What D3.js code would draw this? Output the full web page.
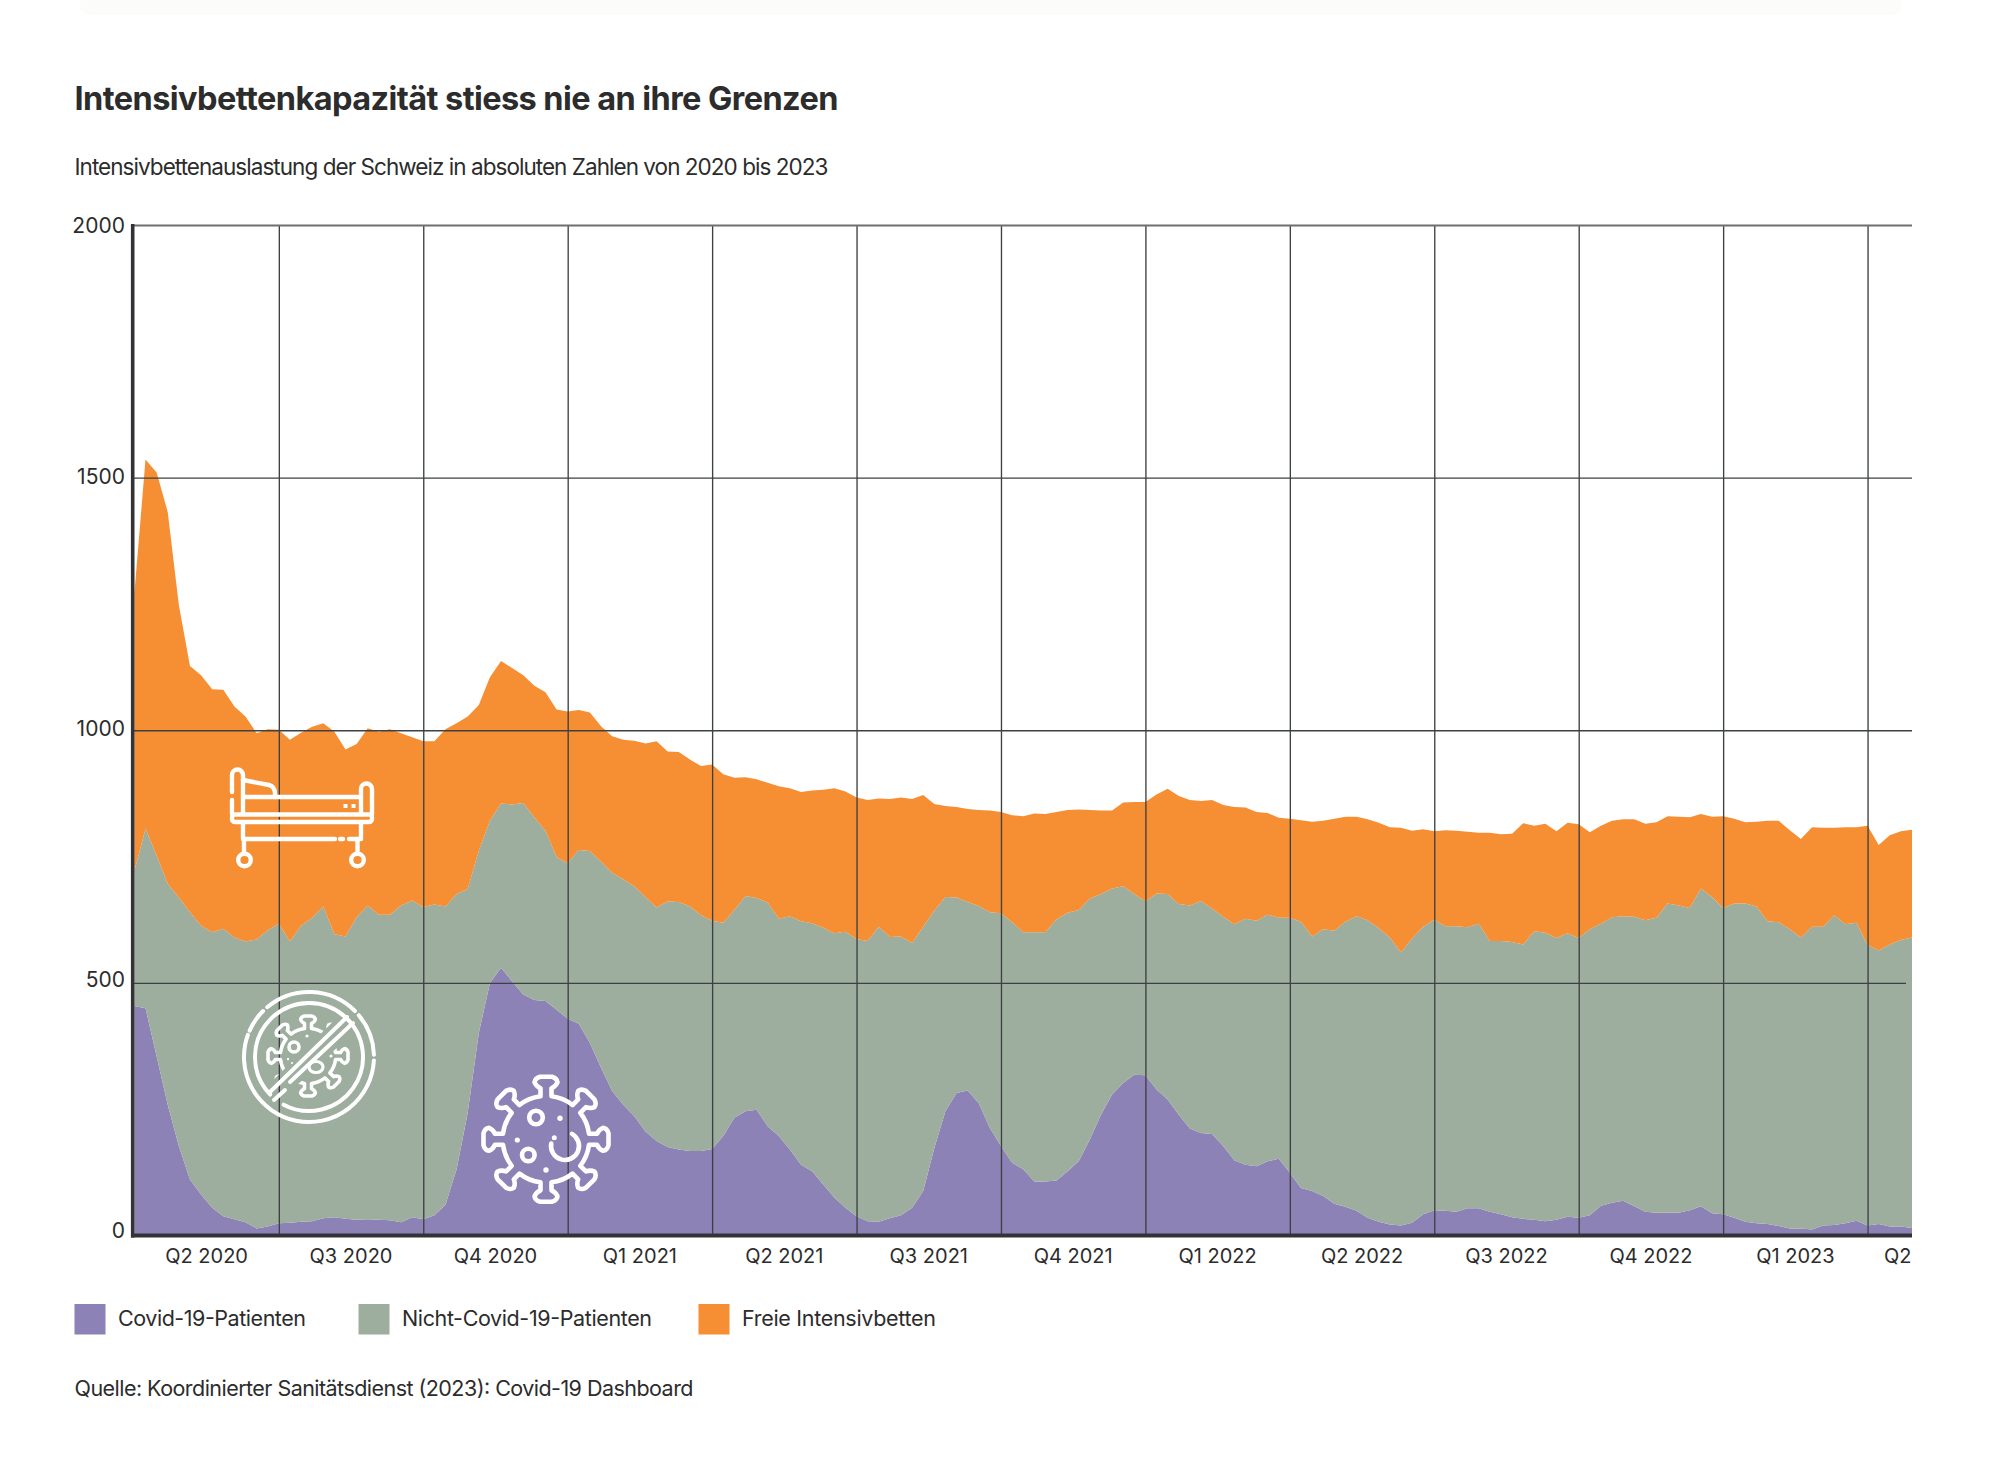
<!DOCTYPE html>
<html lang="de">
<head>
<meta charset="utf-8">
<title>Intensivbettenkapazität</title>
<script src="https://cdn.jsdelivr.net/npm/d3@7/dist/d3.min.js"></script>
<style>
html,body{margin:0;padding:0;background:#fff}
svg{display:block}
text{font-family:Inter,"Noto Sans",sans-serif;fill:#2c2c2c}
</style>
</head>
<body>
<svg id="chart" width="2000" height="1462"></svg>
<script>
const titleText = "Intensivbettenkapazität stiess nie an ihre Grenzen";
const subtitleText = "Intensivbettenauslastung der Schweiz in absoluten Zahlen von 2020 bis 2023";
const sourceText = "Quelle: Koordinierter Sanitätsdienst (2023): Covid-19 Dashboard";
const seriesNames = ["Covid-19-Patienten","Nicht-Covid-19-Patienten","Freie Intensivbetten"];
const seriesColors = ["#8d82b6","#9dad9e","#f68e33"];
const yTicks = [0,500,1000,1500,2000];
const quarterLabels = ["Q2 2020","Q3 2020","Q4 2020","Q1 2021","Q2 2021","Q3 2021","Q4 2021","Q1 2022","Q2 2022","Q3 2022","Q4 2022","Q1 2023","Q2 2023"];
const quarterTicks = [13,26,39,52,65,78,91,104,117,130,143,156];

const covid = [454,450,355,259,177,111,81,55,38,32,26,14,18,24,25,27,28,34,36,33,31,32,31,30,26,36,32,40,61,131,243,401,500,530,503,477,466,464,447,429,419,381,332,286,259,236,206,187,175,170,167,167,171,197,233,246,249,216,197,170,140,127,101,75,55,38,28,27,34,40,55,88,173,246,282,287,262,213,177,144,131,107,107,109,127,147,190,239,279,302,318,317,289,269,239,212,203,201,177,149,140,137,147,152,124,94,88,78,63,57,49,35,27,22,20,25,42,50,49,47,54,54,47,42,36,33,31,28,31,37,35,40,59,65,69,58,47,45,45,45,50,58,44,42,35,27,24,23,19,14,14,12,20,21,24,29,20,23,18,18,15];
const nonCovid = [268,355,397,437,492,529,532,545,569,558,556,572,586,593,557,586,601,617,560,559,599,621,604,605,627,627,618,615,590,545,443,361,321,325,350,379,362,337,302,308,344,380,408,432,446,455,464,462,486,490,484,467,452,422,411,426,419,443,430,462,482,491,508,523,546,549,555,584,557,552,524,523,470,424,387,373,390,427,461,476,469,493,493,517,512,497,477,437,408,389,358,344,388,407,417,441,459,446,454,467,487,486,488,477,505,527,504,528,540,564,583,589,581,568,540,563,569,575,563,565,556,563,536,541,545,543,571,571,558,561,554,566,558,565,563,573,577,584,612,608,598,629,626,606,622,630,627,599,601,592,576,599,591,613,592,590,555,541,558,567,575];
const freeBeds = [549,731,758,736,579,487,496,481,473,457,445,408,398,384,399,382,378,363,401,370,343,351,362,367,341,323,328,323,351,338,341,288,284,282,270,253,260,274,292,300,277,274,268,270,276,288,304,329,297,297,291,295,309,294,262,235,235,237,262,253,256,263,273,287,278,280,279,254,273,275,285,261,211,180,179,184,190,201,200,212,230,235,234,212,203,199,175,165,154,166,182,197,196,208,214,209,198,215,221,232,220,215,201,198,196,201,227,215,222,208,197,200,209,218,247,213,193,175,190,189,189,180,214,211,214,240,209,216,211,219,225,192,194,191,192,193,191,189,173,176,180,147,159,182,168,161,168,199,201,196,195,197,196,173,192,189,236,209,216,215,213];

const rows = covid.map((c,i)=>({i, covid:c, nonCovid:nonCovid[i], free:freeBeds[i]}));
const stacked = d3.stack().keys(["covid","nonCovid","free"])(rows);

const svg = d3.select("#chart");
const plotLeft = 134.4, plotRight = 1912, plotTop = 225, plotBottom = 1235.5;
const xScale = d3.scaleLinear().domain([0,covid.length-1]).range([plotLeft,plotRight]);
const yScale = d3.scaleLinear().domain([0,2000]).range([plotBottom,plotTop]);

function fitText(sel, width){
  sel.attr("textLength",width).attr("lengthAdjust","spacing");
  return sel;
}

/* faint band at the very top of the page */
svg.append("rect").attr("x",80).attr("y",-6).attr("width",1822).attr("height",21).attr("rx",10).attr("fill","#fcfcfb");

fitText(svg.append("text").attr("x",74.5).attr("y",110).attr("font-size",32.5).attr("font-weight",700).text(titleText),764);
fitText(svg.append("text").attr("x",74.5).attr("y",174.5).attr("font-size",22.5).attr("font-weight",400).text(subtitleText),754);

/* stacked areas */
const areaGen = d3.area().x(d=>xScale(d.data.i)).y0(d=>yScale(d[0])).y1(d=>yScale(d[1])).curve(d3.curveLinear);
svg.append("g").selectAll("path").data(stacked).join("path")
  .attr("d",areaGen).attr("fill",(d,i)=>seriesColors[i]);

/* grid via axes */
const gridColor = "#3d4141";
const gx = svg.append("g").attr("transform",`translate(0,${plotBottom})`)
  .call(d3.axisBottom(xScale).tickValues(quarterTicks).tickSize(-(plotBottom-plotTop)).tickFormat(""));
gx.select(".domain").remove();
gx.selectAll("line").attr("stroke",gridColor).attr("stroke-width",1.35);

const gy = svg.append("g").attr("transform",`translate(${plotLeft},0)`)
  .call(d3.axisLeft(yScale).tickValues(yTicks).tickFormat(d3.format("d")).tickSize(0).tickPadding(9));
gy.select(".domain").remove();
gy.selectAll(".tick").each(function(v){
  const t = d3.select(this);
  t.select("line").remove();
  if(v===0) return;
  t.append("line").attr("x1",-2).attr("x2",(v===500?1906:plotRight)-plotLeft)
    .attr("stroke",v===2000?"#6f6f6f":gridColor)
    .attr("stroke-width",v===2000?2:1.3);
});
gy.selectAll("text").attr("font-size",21).attr("text-anchor","end").attr("x",-9.5)
  .attr("dy",v=>(0.35*21-(2000-v)/2000*5)+"px");

/* thick axes */
svg.append("line").attr("x1",132.7).attr("x2",132.7).attr("y1",plotTop-1).attr("y2",plotBottom+2)
  .attr("stroke","#333337").attr("stroke-width",3.6);
svg.append("line").attr("x1",131).attr("x2",plotRight).attr("y1",plotBottom).attr("y2",plotBottom)
  .attr("stroke","#333337").attr("stroke-width",3.8);

/* quarter labels */
const defs = svg.append("defs");
defs.append("clipPath").attr("id","labelClip").append("rect").attr("x",0).attr("y",1230).attr("width",plotRight).attr("height",60);
const labelIdx = quarterLabels.map((d,i)=> i<12 ? (i===0 ? 6.5 : quarterTicks[i-1]+6.5) : 161.2);
svg.append("g").attr("clip-path","url(#labelClip)").selectAll("text").data(quarterLabels).join("text")
  .attr("x",(d,i)=>xScale(labelIdx[i])).attr("y",1263).attr("text-anchor","middle")
  .attr("font-size",20).text(d=>d);

/* legend */
const legendX = [74.5,358.5,698.5];
const legendTextX = [118,402,742];
const legendW = [188,250,194];
const lg = svg.append("g");
seriesNames.forEach((n,i)=>{
  lg.append("rect").attr("x",legendX[i]).attr("y",1304).attr("width",31).attr("height",30.5).attr("fill",seriesColors[i]);
  fitText(lg.append("text").attr("x",legendTextX[i]).attr("y",1325.5).attr("font-size",21.5).text(n),legendW[i]);
});
fitText(svg.append("text").attr("x",74.5).attr("y",1396).attr("font-size",21.5).text(sourceText),619);

/* ---------- white pictograms ---------- */
const ic = svg.append("g").attr("fill","none").attr("stroke","#fff").attr("stroke-linecap","round").attr("stroke-linejoin","round");

/* bed */
const bed = ic.append("g").attr("stroke-width",4.4);
[
 "M232,792 V775 A5.5,5.5 0 0 1 243,775 V814",
 "M232,800 V814",
 "M243,780 L269,785 Q275,786.500 275,794 V797",
 "M243,797 H361",
 "M361,814 V789 A5.500,5.500 0 0 1 372,789 V814",
 "M243,823 V839 H335",
 "M340,839 H343",
 "M349,839 H361 V823",
 "M244,839 V853",
 "M357.500,839 V853"
].forEach(d=>bed.append("path").attr("d",d));
bed.append("rect").attr("x",232).attr("y",814.5).attr("width",140).attr("height",7.5).attr("rx",3);
bed.append("circle").attr("cx",244.5).attr("cy",860).attr("r",6.3);
bed.append("circle").attr("cx",357.5).attr("cy",860).attr("r",6.3);
[345.5,353.5].forEach(cx=>ic.append("rect").attr("x",cx-2).attr("y",804).attr("width",4).attr("height",4).attr("fill","#fff").attr("stroke","none"));

/* helpers */
function polar(cx,cy,r,deg){const a=deg*Math.PI/180;return [cx+r*Math.cos(a),cy+r*Math.sin(a)];}
function arcPath(cx,cy,r,a0,a1){
  const p0=polar(cx,cy,r,a0),p1=polar(cx,cy,r,a1);
  const large=Math.abs(a1-a0)>180?1:0;
  return `M${p0[0]},${p0[1]} A${r},${r} 0 ${large} 1 ${p1[0]},${p1[1]}`;
}
function virusOutline(cx,cy,k){
  const body = 43*k;
  let d = "", start = null;
  d3.range(8).forEach(i=>{
    const a = (-90+45*i)*Math.PI/180;
    const P = (u,t)=>[cx+k*u*Math.cos(a)-k*t*Math.sin(a), cy+k*u*Math.sin(a)+k*t*Math.cos(a)];
    const n0 = P(43,-5.5), n1 = P(43,5.5);
    const s = [P(51,-5.5),P(53,-10),P(57,-11.5),P(61,-11),P(62.5,-6),P(62.5,6),P(61,11),P(57,11.5),P(53,10),P(51,5.5)];
    if(i===0){ start = n0; d += `M${n0}`; } else { d += `A${body},${body} 0 0 1 ${n0}`; }
    d += ` L${s[0]} Q${s[1]} ${s[2]} Q${s[3]} ${s[4]} L${s[5]} Q${s[6]} ${s[7]} Q${s[8]} ${s[9]} L${n1} `;
  });
  return d + `A${body},${body} 0 0 1 ${start}`;
}

/* no-virus sign */
const nv = ic.append("g").attr("stroke-width",4);
const cx1 = 309, cy1 = 1057;
nv.append("path").attr("d",arcPath(cx1,cy1,65,-40,-2));
nv.append("path").attr("d",arcPath(cx1,cy1,65,3,200));
nv.append("path").attr("d",arcPath(cx1,cy1,65,204,225)+" "+arcPath(cx1,cy1,65,230,315));
nv.append("path").attr("d","M270,1092 L347,1017");
nv.append("path").attr("d",arcPath(cx1,cy1,54,136,314));
nv.append("path").attr("d","M353,1023 L290,1082");
nv.append("path").attr("d",arcPath(cx1,cy1,54,-48,118));
nv.append("path").attr("d","M274,1100 L285,1090");

defs.append("clipPath").attr("id","nvUpper").append("path").attr("d","M343,1012 L263,1090 H200 V960 H343 Z");
defs.append("clipPath").attr("id","nvLower").append("path").attr("d","M358,1028 L294,1088 V1140 H400 V1028 Z");
const smallVirus = virusOutline(308,1056,0.64);
nv.append("path").attr("d",smallVirus).attr("clip-path","url(#nvUpper)").attr("stroke-width",3.6);
nv.append("path").attr("d",smallVirus).attr("clip-path","url(#nvLower)").attr("stroke-width",3.6);
nv.append("circle").attr("cx",294).attr("cy",1047).attr("r",5).attr("stroke-width",3.6);
nv.append("ellipse").attr("cx",316).attr("cy",1067).attr("rx",7).attr("ry",5.5).attr("stroke-width",3.2);
[[307,1036,1.6],[288,1059,1.2],[331,1056,1.6],[292,1063,1.1]].forEach(d=>
  nv.append("circle").attr("cx",d[0]).attr("cy",d[1]).attr("r",d[2]).attr("fill","#fff").attr("stroke","none"));

/* virus */
const vir = ic.append("g").attr("stroke-width",4.6);
vir.append("path").attr("d",virusOutline(546,1139.3,1));
vir.append("circle").attr("cx",536).attr("cy",1117.5).attr("r",6.8);
vir.append("circle").attr("cx",528.3).attr("cy",1155).attr("r",6.3);
vir.append("path").attr("d",arcPath(565,1146,14,-60,190));
[[560,1118.3,2.7],[517.3,1140,2.6],[554.3,1137.7,2.5],[546,1170,2.7]].forEach(d=>
  ic.append("circle").attr("cx",d[0]).attr("cy",d[1]).attr("r",d[2]).attr("fill","#fff").attr("stroke","none"));
</script>
</body>
</html>
